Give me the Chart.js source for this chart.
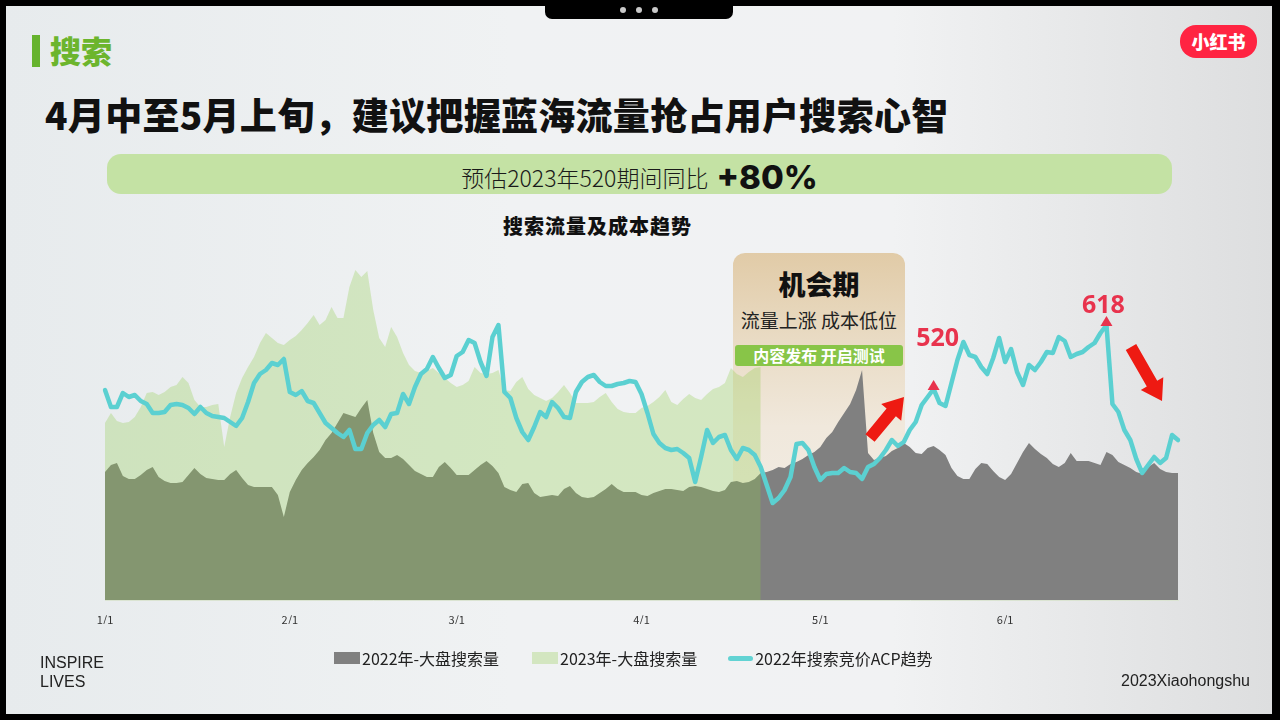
<!DOCTYPE html>
<html><head><meta charset="utf-8">
<script src="https://cdn.jsdelivr.net/npm/chart.js@4.4.0/dist/chart.umd.min.js"></script>
<style>
html,body{margin:0;padding:0;}
body{width:1280px;height:720px;overflow:hidden;position:relative;background:#000;font-family:"Noto Sans CJK SC","Noto Sans",sans-serif;color:#111;}
#slide{position:absolute;left:6px;top:6px;width:1266px;height:708px;background:linear-gradient(90deg,#e7ebed 0%,#f0f2f3 40%,#f1f2f3 70%,#dddedf 100%);}
.abs{position:absolute;white-space:nowrap;}
#tab{left:545px;top:0;width:188px;height:19px;background:#000;border-radius:0 0 7px 7px;}
.dot{position:absolute;top:7px;width:6px;height:6px;border-radius:3px;background:#c9c9c9;}
#bar{left:32px;top:35px;width:8px;height:32px;background:#66b32e;}
#sec{left:50px;top:29px;font-size:31px;font-weight:900;color:#6cb52d;line-height:42px;}
#title{left:45px;top:91px;font-size:37px;font-weight:900;line-height:46px;color:#111;letter-spacing:0.3px;}
#pill{left:107px;top:154px;width:1065px;height:40px;border-radius:14px;background:#c4e2a4;text-align:center;line-height:40px;}
#pill .a{font-size:23px;font-weight:300;color:#1a1a1a;vertical-align:middle;}
#pill .b{font-family:Inter,"Noto Sans",sans-serif;font-size:33px;font-weight:800;color:#111;vertical-align:middle;margin-left:8px;}
#ctitle{left:503px;top:213px;font-size:20px;font-weight:900;line-height:26px;color:#111;letter-spacing:1px;}
#logo{left:1180px;top:25px;width:77px;height:33px;border-radius:16px;background:#ff2442;color:#fff;font-size:18px;font-weight:900;text-align:center;line-height:33px;}
#box{left:733px;top:253px;width:172px;height:347px;border-radius:12px 12px 0 0;background:linear-gradient(180deg,#e1cba7 0%,#e9dbc4 25%,#f0e8dc 50%,#f3efea 100%);}
#box .h{position:absolute;left:0;top:13px;width:172px;text-align:center;font-size:27px;font-weight:900;line-height:36px;color:#111;}
#box .s{position:absolute;left:0;top:53px;width:172px;text-align:center;font-size:19px;line-height:28px;color:#222;}
#box .g{position:absolute;left:2px;top:92px;width:168px;height:21px;border-radius:3px;background:#88c548;color:#fff;text-align:center;font-size:16px;font-weight:700;line-height:21px;}
#cv{position:absolute;left:55px;top:240px;}
#legend{left:334px;top:647px;display:flex;align-items:center;font-size:16px;color:#222;line-height:22px;}
#legend .it{display:flex;align-items:center;}
#legend .sw{width:26px;height:12px;margin-right:2px;}
#legend .ln{width:25px;height:5px;border-radius:3px;margin-right:2px;}
#insp{left:40px;top:653px;font-family:"Liberation Sans",Arial,sans-serif;font-size:16px;line-height:19px;color:#222;}
#xhs{right:30px;top:671px;font-family:"Liberation Sans",Arial,sans-serif;font-size:16px;line-height:20px;color:#222;}
#arrows{position:absolute;left:0;top:0;}
</style></head>
<body>
<div id="slide"></div>
<div class="abs" id="tab"><div class="dot" style="left:75px"></div><div class="dot" style="left:91px"></div><div class="dot" style="left:107px"></div></div>
<div class="abs" id="bar"></div>
<div class="abs" id="sec">搜索</div>
<div class="abs" id="logo">小红书</div>
<div class="abs" id="title">4月中至5月上旬，建议把握蓝海流量抢占用户搜索心智</div>
<div class="abs" id="pill"><span class="a">预估2023年520期间同比</span><span class="b">+80%</span></div>
<div class="abs" id="ctitle">搜索流量及成本趋势</div>
<div class="abs" id="box"><div class="h">机会期</div><div class="s">流量上涨 成本低位</div><div class="g">内容发布 开启测试</div></div>
<canvas id="cv" width="1180" height="384"></canvas>
<svg id="arrows" width="1280" height="720"></svg>
<div class="abs" id="legend"></div>
<div class="abs" id="insp">INSPIRE<br>LIVES</div>
<div class="abs" id="xhs">2023Xiaohongshu</div>
<script>
// ---- data ----
const seriesNames = ['2022年-大盘搜索量', '2023年-大盘搜索量', '2022年搜索竞价ACP趋势'];
const search2022 = [
128,135,137,124,121,121,125,130,133,123,
119,117,117,118,125,132,126,122,121,120,
120,126,130,122,115,113,113,113,113,105,
83,108,120,130,137,143,150,160,167,177,
187,185,183,192,200,167,148,142,142,145,
141,135,129,126,123,123,133,138,132,125,
125,125,130,135,139,134,127,113,110,108,
116,117,107,103,104,105,104,111,114,107,
103,102,103,107,111,116,111,108,108,108,
105,104,107,109,111,111,110,109,113,114,
113,111,109,108,110,118,119,117,118,121,
127,128,130,133,132,136,138,141,145,148,
153,162,168,178,187,196,210,230,147,140,
142,144,149,152,157,153,147,146,152,154,
150,145,132,124,121,121,131,137,136,129,
123,120,126,137,148,157,151,146,142,136,
133,137,147,139,139,139,137,135,148,145,
138,135,132,128,126,133,137,131,128,127,127];
const search2023 = [
177,187,179,177,178,183,193,207,208,205,
208,213,215,223,217,200,193,193,195,196,
153,183,207,222,233,243,257,267,262,257,
255,260,264,270,277,285,275,280,293,282,
282,313,330,323,329,290,262,253,273,263,
247,235,229,227,229,232,227,222,217,213,
215,219,233,227,226,227,230,210,209,218,
223,211,205,202,199,202,208,215,207,197,
197,197,198,203,207,198,191,188,187,187,
192,194,198,203,210,198,195,201,206,202,
200,206,211,213,217,232,226,223,228,232,233];
const acp2022 = [
210,193,193,207,203,205,199,196,187,187,
188,195,196,195,192,186,193,187,184,183,
182,178,174,182,198,217,226,230,237,235,
241,208,205,209,199,197,187,177,172,167,
163,170,151,151,167,175,180,173,186,187,
206,196,213,226,231,243,232,222,225,244,
248,260,257,238,224,263,275,208,202,182,
168,160,173,188,183,198,192,183,182,208,
218,223,225,218,214,214,216,217,219,218,
206,187,166,157,152,150,151,147,142,118,
143,170,157,163,165,150,141,152,150,145,
133,115,97,102,110,123,156,157,150,133,
120,126,127,127,132,128,127,121,133,136,
142,150,160,154,158,170,178,195,203,211,
197,194,217,240,258,245,243,233,226,242,
262,238,251,228,215,235,230,238,248,247,
263,259,243,246,248,253,257,267,275,196,
188,170,160,141,127,135,143,137,142,165,160];
const markerDates = ['5/20', '6/18'];
const markerTexts = ['520', '618'];
// day labels 1/1 .. 6/30
const dayLabels = [];
for (let i = 0; i < search2022.length; i++) {
  const d = new Date(2022, 0, 1 + i);
  dayLabels.push((d.getMonth() + 1) + '/' + d.getDate());
}

const colors = ['#808080', 'rgba(142,202,71,0.29)', '#5bd0d1'];
const legendSwatch = ['#808080', '#d3e6c0', '#62d3d3'];

// ---- legend ----
const lg = document.getElementById('legend');
seriesNames.forEach((n, i) => {
  const it = document.createElement('div');
  it.className = 'it';
  if (i > 0) it.style.marginLeft = (i === 1 ? 33 : 31) + 'px';
  const sw = document.createElement('div');
  sw.className = i === 2 ? 'ln' : 'sw';
  sw.style.background = legendSwatch[i];
  const tx = document.createElement('span');
  tx.textContent = n;
  it.appendChild(sw); it.appendChild(tx);
  lg.appendChild(it);
});

// ---- arrows ----
function arrowPts(x1, y1, x2, y2, sw, hw, hl) {
  const dx = x2 - x1, dy = y2 - y1, L = Math.hypot(dx, dy);
  const ux = dx / L, uy = dy / L, nx = -uy, ny = ux;
  const bx = x2 - ux * hl, by = y2 - uy * hl;
  const p = [[x1 + nx * sw, y1 + ny * sw], [bx + nx * sw, by + ny * sw], [bx + nx * hw, by + ny * hw], [x2, y2],
             [bx - nx * hw, by - ny * hw], [bx - nx * sw, by - ny * sw], [x1 - nx * sw, y1 - ny * sw]];
  return p.map(q => q[0].toFixed(1) + ',' + q[1].toFixed(1)).join(' ');
}
const svg = document.getElementById('arrows');
svg.innerHTML =
  '<polygon points="' + arrowPts(870, 438, 904, 397, 6, 13, 20) + '" fill="#ee1a12"/>' +
  '<polygon points="' + arrowPts(1131, 347, 1162, 401, 6, 13, 20) + '" fill="#ee1a12"/>';

// ---- marker plugin ----
const markerPlugin = {
  id: 'markers',
  afterDatasetsDraw(chart, args, opts) {
    const ctx = chart.ctx;
    const meta = chart.getDatasetMeta(2);
    markerDates.forEach((d, k) => {
      const idx = dayLabels.indexOf(d);
      const pt = meta.data[idx];
      if (!pt) return;
      const x = pt.x, y = pt.y;
      ctx.save();
      ctx.fillStyle = opts.color;
      ctx.beginPath();
      ctx.moveTo(x - 6, y + 1);
      ctx.lineTo(x + 6, y + 1);
      ctx.lineTo(x, y - 9);
      ctx.closePath();
      ctx.fill();
      ctx.font = 'bold 25px "Noto Sans", sans-serif';
      ctx.textAlign = 'center';
      ctx.textBaseline = 'middle';
      ctx.fillText(markerTexts[k], x + opts.offsets[k][0], y + opts.offsets[k][1]);
      ctx.restore();
    });
  }
};

new Chart(document.getElementById('cv'), {
  type: 'line',
  data: {
    labels: dayLabels,
    datasets: [
      { label: seriesNames[0], data: search2022, fill: 'origin', backgroundColor: colors[0],
        borderColor: 'rgba(0,0,0,0)', borderWidth: 0, pointRadius: 0, tension: 0, order: 3 },
      { label: seriesNames[1], data: search2023, fill: 'origin', backgroundColor: colors[1],
        borderColor: 'rgba(0,0,0,0)', borderWidth: 0, pointRadius: 0, tension: 0, order: 2 },
      { label: seriesNames[2], data: acp2022, fill: false, borderColor: colors[2], borderWidth: 4.5,
        borderJoinStyle: 'round', borderCapStyle: 'round', pointRadius: 0, tension: 0, order: 1 }
    ]
  },
  options: {
    responsive: false,
    animation: false,
    layout: { padding: { left: 50, right: 57, top: 10, bottom: 0 } },
    plugins: {
      legend: { display: false },
      tooltip: { enabled: false },
      markers: { color: '#e8334d', offsets: [[4, -50], [-3, -19]] }
    },
    scales: {
      y: { display: false, min: 0, max: 350 },
      x: {
        grid: { display: false },
        border: { display: true, color: '#dbe4d2', width: 1 },
        afterFit(scale) { scale.height = 24; },
        ticks: {
          autoSkip: false, maxRotation: 0, minRotation: 0, padding: 5,
          color: '#333', font: { size: 11, family: '"Noto Sans CJK SC", "Noto Sans", sans-serif' },
          callback: function (v) { const l = this.getLabelForValue(v); return l.endsWith('/1') ? l : ''; }
        }
      }
    }
  },
  plugins: [markerPlugin]
});
</script>
</body></html>
